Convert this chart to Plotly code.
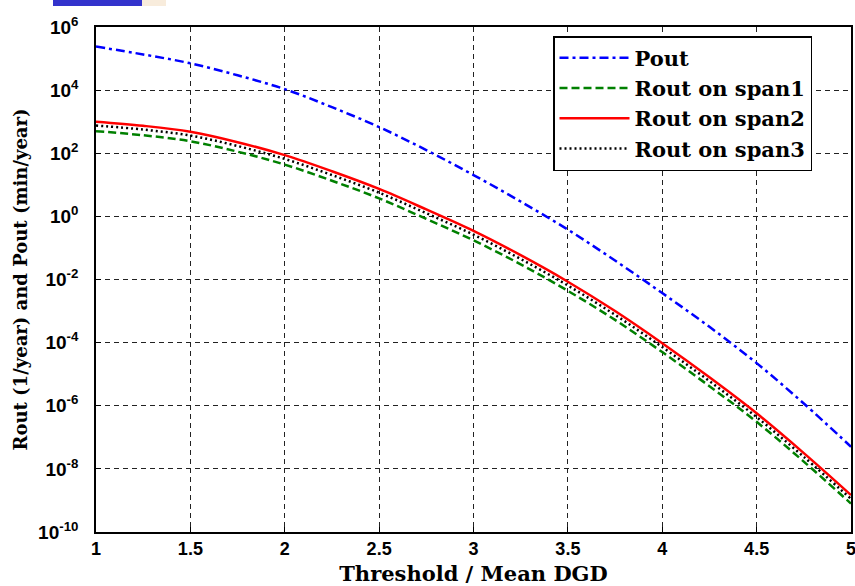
import plotly.graph_objects as go

# Data (log10 values)
x_vals = [1.0, 1.25, 1.5, 1.75, 2.0, 2.25, 2.5, 2.75, 3.0, 3.25, 3.5, 3.75, 4.0, 4.25, 4.5, 4.75, 5.0]
pout_log = [5.38, 5.13, 4.85, 4.47, 4.03, 3.46, 2.83, 2.10, 1.31, 0.47, -0.42, -1.40, -2.43, -3.50, -4.65, -5.93, -7.30]
span2_log = [3.00, 2.87, 2.68, 2.35, 1.94, 1.43, 0.87, 0.22, -0.46, -1.23, -2.07, -3.00, -4.02, -5.10, -6.24, -7.50, -8.83]
span1_log = [2.70, 2.57, 2.38, 2.05, 1.64, 1.13, 0.57, -0.08, -0.76, -1.52, -2.36, -3.28, -4.30, -5.38, -6.51, -7.77, -9.10]
span3_log = [2.88, 2.75, 2.56, 2.23, 1.82, 1.31, 0.75, 0.10, -0.58, -1.35, -2.19, -3.12, -4.14, -5.22, -6.36, -7.62, -8.95]

series_names = ["Pout", "Rout on span1", "Rout on span2", "Rout on span3"]
x_tick_vals = [1, 1.5, 2, 2.5, 3, 3.5, 4, 4.5, 5]
x_tick_text = ["1", "1.5", "2", "2.5", "3", "3.5", "4", "4.5", "5"]
y_tick_exps = [6, 4, 2, 0, -2, -4, -6, -8, -10]
y_tick_text = ["10<sup>%d</sup>" % e for e in y_tick_exps]

def lin(v):
    return [10 ** t for t in v]

fig = go.Figure()
styles = [
    (pout_log, "#0000FF", "9px,4px,3px,4px"),
    (span1_log, "#008000", "8px,4px"),
    (span2_log, "#FF0000", "solid"),
    (span3_log, "#000000", "2px,3px"),
]
for name, (vals, col, dash) in zip(series_names, styles):
    fig.add_trace(go.Scatter(
        x=x_vals, y=lin(vals), mode="lines", name=name,
        line=dict(color=col, dash=dash, width=2.5, shape="spline"),
    ))

serif = "DejaVu Serif"
fig.update_layout(
    width=855, height=586,
    margin=dict(l=96, r=4, t=27, b=54),
    paper_bgcolor="white", plot_bgcolor="white",
    showlegend=True,
    legend=dict(
        x=(553 - 96) / 755, y=1 - (36 - 27) / 505, xanchor="left", yanchor="top",
        bgcolor="white", bordercolor="black", borderwidth=1.5,
        font=dict(family=serif, size=21, color="black", weight="bold"),
        itemwidth=70, tracegroupgap=0,
    ),
    xaxis=dict(
        range=[1, 5], tickvals=x_tick_vals, ticktext=x_tick_text,
        showgrid=True, gridcolor="#222222", griddash="5px,4px", gridwidth=1,
        showline=True, linecolor="black", linewidth=1.5, mirror=True,
        ticks="inside", ticklen=5, tickcolor="black", ticklabeloverflow="allow",
        tickfont=dict(family="Liberation Sans", size=18, color="black", weight="bold"),
        title=dict(text="Threshold / Mean DGD", standoff=10,
                   font=dict(family=serif, size=21, color="black", weight="bold")),
        zeroline=False, automargin=False,
    ),
    yaxis=dict(
        type="log", range=[-10, 6],
        tickvals=[10 ** e for e in y_tick_exps], ticktext=y_tick_text,
        showgrid=True, gridcolor="#222222", griddash="5px,4px", gridwidth=1,
        showline=True, linecolor="black", linewidth=1.5, mirror=True,
        ticks="inside", ticklen=5, tickcolor="black", ticklabelstandoff=12,
        tickfont=dict(family="Liberation Sans", size=19, color="black", weight="bold"),
        title=dict(text="Rout (1/year) and Pout (min/year)", standoff=6,
                   font=dict(family=serif, size=18, color="black", weight="bold")),
        zeroline=False, automargin=False,
    ),
    shapes=[
        dict(type="rect", xref="paper", yref="paper",
             x0=-43 / 755, x1=46 / 755, y0=1 + 21 / 505, y1=1 + 27 / 505,
             fillcolor="#3333CC", line=dict(width=0), layer="above"),
        dict(type="rect", xref="paper", yref="paper",
             x0=46 / 755, x1=70 / 755, y0=1 + 21 / 505, y1=1 + 27 / 505,
             fillcolor="#F8ECDC", line=dict(width=0), layer="above"),
    ],
)

fig.write_html("out.html")
